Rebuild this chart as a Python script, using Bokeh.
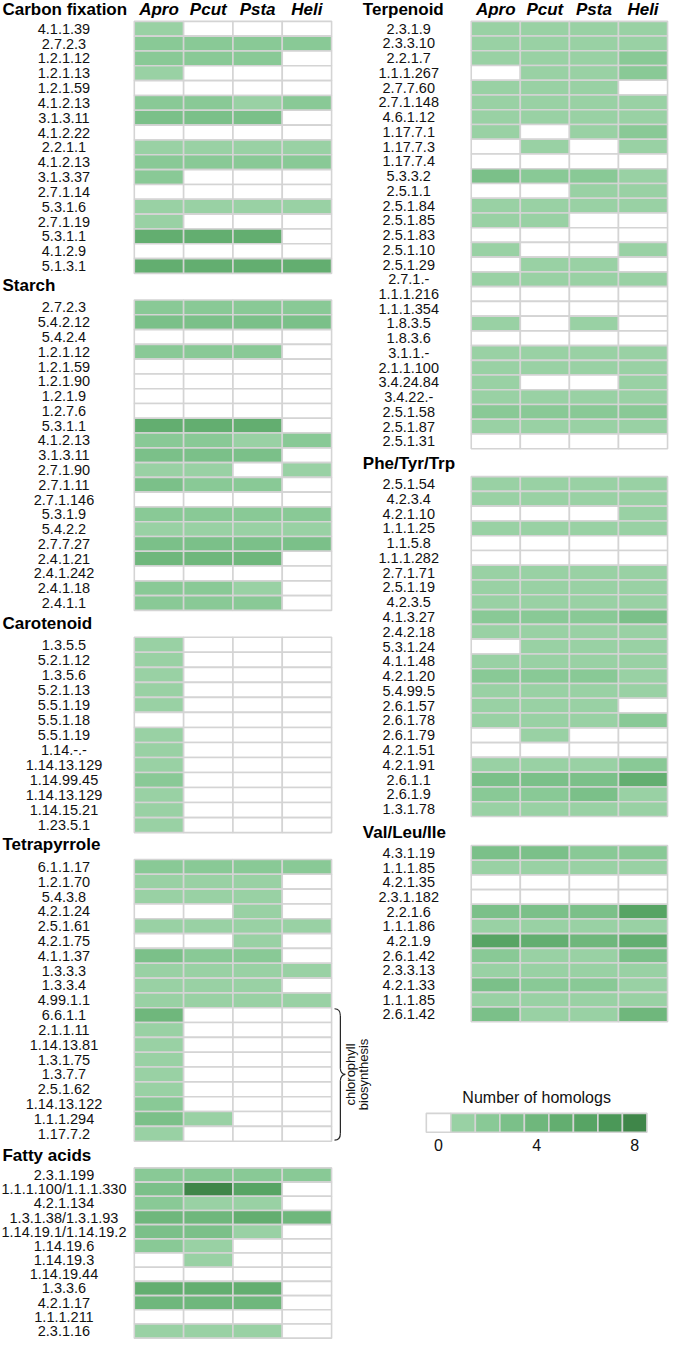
import math
from bokeh.plotting import figure
from bokeh.models import Range1d, ColumnDataSource
from bokeh.embed import file_html
from bokeh.resources import INLINE
from bokeh.core.properties import value

# ---------------- data ----------------
species = ["Apro", "Pcut", "Psta", "Heli"]

carbon_labels = ["4.1.1.39", "2.7.2.3", "1.2.1.12", "1.2.1.13", "1.2.1.59", "4.1.2.13", "3.1.3.11",
                 "4.1.2.22", "2.2.1.1", "4.1.2.13", "3.1.3.37", "2.7.1.14", "5.3.1.6", "2.7.1.19",
                 "5.3.1.1", "4.1.2.9", "5.1.3.1"]
carbon_values = [[1, 0, 0, 0], [2, 2, 2, 2], [2, 2, 2, 0], [1, 0, 0, 0], [0, 0, 0, 0], [2, 2, 1, 2],
                 [3, 3, 3, 0], [0, 0, 0, 0], [1, 1, 1, 1], [2, 2, 2, 2], [2, 0, 0, 0], [0, 0, 0, 0],
                 [1, 1, 1, 1], [1, 0, 0, 0], [5, 5, 5, 0], [0, 0, 0, 0], [5, 5, 5, 5]]

starch_labels = ["2.7.2.3", "5.4.2.12", "5.4.2.4", "1.2.1.12", "1.2.1.59", "1.2.1.90", "1.2.1.9",
                 "1.2.7.6", "5.3.1.1", "4.1.2.13", "3.1.3.11", "2.7.1.90", "2.7.1.11", "2.7.1.146",
                 "5.3.1.9", "5.4.2.2", "2.7.7.27", "2.4.1.21", "2.4.1.242", "2.4.1.18", "2.4.1.1"]
starch_values = [[2, 2, 2, 2], [3, 3, 3, 3], [0, 0, 0, 0], [2, 2, 2, 0], [0, 0, 0, 0], [0, 0, 0, 0],
                 [0, 0, 0, 0], [0, 0, 0, 0], [5, 5, 5, 0], [2, 2, 1, 2], [3, 3, 3, 0], [1, 1, 0, 1],
                 [3, 2, 2, 0], [0, 0, 0, 0], [2, 2, 2, 2], [1, 1, 1, 1], [3, 3, 3, 3], [4, 4, 4, 0],
                 [0, 0, 0, 0], [2, 2, 1, 0], [2, 2, 2, 0]]

carotenoid_labels = ["1.3.5.5", "5.2.1.12", "1.3.5.6", "5.2.1.13", "5.5.1.19", "5.5.1.18", "5.5.1.19",
                     "1.14.-.-", "1.14.13.129", "1.14.99.45", "1.14.13.129", "1.14.15.21", "1.23.5.1"]
carotenoid_values = [[1, 0, 0, 0], [1, 0, 0, 0], [1, 0, 0, 0], [1, 0, 0, 0], [1, 0, 0, 0], [0, 0, 0, 0],
                     [1, 0, 0, 0], [1, 0, 0, 0], [1, 0, 0, 0], [2, 0, 0, 0], [1, 0, 0, 0], [1, 0, 0, 0],
                     [1, 0, 0, 0]]

tetrapyrrole_labels = ["6.1.1.17", "1.2.1.70", "5.4.3.8", "4.2.1.24", "2.5.1.61", "4.2.1.75", "4.1.1.37",
                       "1.3.3.3", "1.3.3.4", "4.99.1.1", "6.6.1.1", "2.1.1.11", "1.14.13.81", "1.3.1.75",
                       "1.3.7.7", "2.5.1.62", "1.14.13.122", "1.1.1.294", "1.17.7.2"]
tetrapyrrole_values = [[2, 2, 2, 2], [1, 1, 1, 0], [1, 1, 1, 0], [0, 0, 1, 0], [1, 1, 1, 1], [0, 0, 1, 0],
                       [3, 2, 2, 0], [1, 1, 1, 1], [1, 1, 1, 0], [1, 1, 1, 1], [4, 0, 0, 0], [1, 0, 0, 0],
                       [1, 0, 0, 0], [1, 0, 0, 0], [1, 0, 0, 0], [1, 0, 0, 0], [2, 0, 0, 0], [3, 1, 0, 0],
                       [1, 0, 0, 0]]

fatty_labels = ["2.3.1.199", "1.1.1.100/1.1.1.330", "4.2.1.134", "1.3.1.38/1.3.1.93",
                "1.14.19.1/1.14.19.2", "1.14.19.6", "1.14.19.3", "1.14.19.44", "1.3.3.6", "4.2.1.17",
                "1.1.1.211", "2.3.1.16"]
fatty_values = [[2, 2, 2, 2], [3, 8, 6, 0], [2, 1, 1, 0], [4, 4, 5, 4], [3, 3, 1, 0], [2, 1, 0, 0],
                [0, 1, 0, 0], [0, 0, 0, 0], [5, 5, 5, 0], [4, 4, 4, 0], [0, 0, 0, 0], [1, 1, 1, 0]]

terpenoid_labels = ["2.3.1.9", "2.3.3.10", "2.2.1.7", "1.1.1.267", "2.7.7.60", "2.7.1.148", "4.6.1.12",
                    "1.17.7.1", "1.17.7.3", "1.17.7.4", "5.3.3.2", "2.5.1.1", "2.5.1.84", "2.5.1.85",
                    "2.5.1.83", "2.5.1.10", "2.5.1.29", "2.7.1.-", "1.1.1.216", "1.1.1.354", "1.8.3.5",
                    "1.8.3.6", "3.1.1.-", "2.1.1.100", "3.4.24.84", "3.4.22.-", "2.5.1.58", "2.5.1.87",
                    "2.5.1.31"]
terpenoid_values = [[1, 1, 1, 1], [1, 1, 1, 1], [1, 1, 1, 2], [0, 1, 1, 2], [1, 1, 1, 0], [1, 1, 1, 1],
                    [1, 1, 1, 1], [1, 0, 1, 2], [0, 1, 0, 1], [0, 0, 0, 0], [3, 2, 2, 1], [0, 0, 1, 1],
                    [1, 1, 1, 1], [1, 1, 0, 0], [0, 0, 0, 0], [1, 0, 0, 1], [0, 1, 1, 0], [1, 1, 1, 1],
                    [0, 0, 0, 0], [0, 0, 0, 0], [1, 0, 1, 0], [0, 0, 0, 0], [1, 1, 1, 1], [1, 1, 1, 1],
                    [1, 0, 0, 1], [1, 1, 1, 1], [2, 2, 2, 2], [1, 1, 1, 1], [0, 0, 0, 0]]

aromatic_labels = ["2.5.1.54", "4.2.3.4", "4.2.1.10", "1.1.1.25", "1.1.5.8", "1.1.1.282", "2.7.1.71",
                   "2.5.1.19", "4.2.3.5", "4.1.3.27", "2.4.2.18", "5.3.1.24", "4.1.1.48", "4.2.1.20",
                   "5.4.99.5", "2.6.1.57", "2.6.1.78", "2.6.1.79", "4.2.1.51", "4.2.1.91", "2.6.1.1",
                   "2.6.1.9", "1.3.1.78"]
aromatic_values = [[1, 1, 1, 1], [1, 1, 1, 1], [0, 0, 0, 1], [1, 1, 1, 1], [0, 0, 0, 0], [0, 0, 0, 0],
                   [1, 1, 1, 1], [1, 1, 1, 1], [1, 1, 1, 1], [2, 2, 2, 3], [1, 1, 1, 1], [0, 1, 1, 1],
                   [1, 1, 1, 1], [2, 2, 2, 1], [1, 1, 1, 1], [1, 1, 1, 0], [1, 1, 1, 2], [0, 1, 0, 0],
                   [0, 0, 0, 0], [1, 1, 1, 2], [3, 3, 3, 5], [2, 2, 3, 1], [1, 1, 1, 1]]

branched_labels = ["4.3.1.19", "1.1.1.85", "4.2.1.35", "2.3.1.182", "2.2.1.6", "1.1.1.86", "4.2.1.9",
                   "2.6.1.42", "2.3.3.13", "4.2.1.33", "1.1.1.85", "2.6.1.42"]
branched_values = [[3, 3, 2, 2], [1, 1, 1, 1], [0, 0, 0, 0], [0, 0, 0, 0], [3, 3, 3, 6], [1, 1, 1, 1],
                   [6, 5, 4, 5], [2, 1, 1, 3], [1, 1, 1, 1], [3, 2, 2, 1], [1, 1, 1, 1], [3, 1, 1, 4]]

legend_levels = [0, 1, 2, 3, 4, 5, 6, 7, 8]
legend_ticks = [0, 4, 8]
palette = ["#ffffff", "#99d1a4", "#89c996", "#7bc089", "#6fb77c", "#63ae70", "#57a464", "#4b9858", "#3f8649"]

# ---------------- layout ----------------
FONT = value("Liberation Sans")
L_LABEL_X, L_GRID_X0, L_COL_W = 65, 137.0, 50.5
R_LABEL_X, R_GRID_X0, R_COL_W = 418, 482.0, 50.25
L_TITLE_X, R_TITLE_X = 2, 371

panels = [
    ("Carbon fixation", carbon_labels, carbon_values, "L", 9, 21, 14.95, True),
    ("Starch", starch_labels, starch_values, "L", 287, 302, 14.9, False),
    ("Carotenoid", carotenoid_labels, carotenoid_values, "L", 628, 642, 15.15, False),
    ("Tetrapyrrole", tetrapyrrole_labels, tetrapyrrole_values, "L", 851, 866, 14.95, False),
    ("Fatty acids", fatty_labels, fatty_values, "L", 1164, 1177, 14.3, False),
    ("Terpenoid", terpenoid_labels, terpenoid_values, "R", 9, 21, 14.86, True),
    ("Phe/Tyr/Trp", aromatic_labels, aromatic_values, "R", 467, 480, 14.9, False),
    ("Val/Leu/Ile", branched_labels, branched_values, "R", 839, 852, 14.8, False),
]

p = figure(width=669, height=1341, x_range=Range1d(0, 685), y_range=Range1d(1352, 0),
           output_backend="svg", toolbar_location=None, x_axis_type=None, y_axis_type=None,
           min_border=0, outline_line_color=None, background_fill_color="white")
p.xgrid.visible = False
p.ygrid.visible = False

cx, cy, cw, ch, cc = [], [], [], [], []
lx, ly, lt = [], [], []
tx, ty, tt = [], [], []
hx, hy, ht = [], [], []

for title, labels, vals, side, title_y, top, pitch, header in panels:
    gx0 = L_GRID_X0 if side == "L" else R_GRID_X0
    colw = L_COL_W if side == "L" else R_COL_W
    lab_x = L_LABEL_X if side == "L" else R_LABEL_X
    tx.append(L_TITLE_X if side == "L" else R_TITLE_X)
    ty.append(title_y)
    tt.append(title)
    if header:
        for j, sp in enumerate(species):
            hx.append(gx0 + (j + 0.5) * colw)
            hy.append(title_y)
            ht.append(sp)
    for i, (lab, row) in enumerate(zip(labels, vals)):
        yc = top + (i + 0.5) * pitch
        lx.append(lab_x)
        ly.append(yc)
        lt.append(lab)
        for j, v in enumerate(row):
            cx.append(gx0 + (j + 0.5) * colw)
            cy.append(yc)
            cw.append(colw)
            ch.append(pitch)
            cc.append(palette[v])

p.rect(x="x", y="y", width="w", height="h", fill_color="c", line_color="#d4d4d4", line_width=1.6,
       source=ColumnDataSource(dict(x=cx, y=cy, w=cw, h=ch, c=cc)))
p.text(x=lx, y=ly, text=lt, text_align="center", text_baseline="middle", text_font=FONT,
       text_font_size="14.5px", text_color="#111111")
p.text(x=tx, y=ty, text=tt, text_align="left", text_baseline="middle", text_font=FONT,
       text_font_size="17px", text_font_style="bold", text_color="#000000")
p.text(x=hx, y=hy, text=ht, text_align="center", text_baseline="middle", text_font=FONT,
       text_font_size="17px", text_font_style="bold italic", text_color="#000000")

# chlorophyll biosynthesis brace (rows 6.6.1.1 .. 1.17.7.2 of Tetrapyrrole)
tp_top, tp_pitch = 866, 14.95
b_top = tp_top + 10 * tp_pitch + 1
b_bot = tp_top + 19 * tp_pitch - 1
b_mid = (b_top + b_bot) / 2
bx, hook, tip = 348, 342, 353
p.bezier(x0=[hook, bx, tip, bx], y0=[b_top, b_mid - 6, b_mid, b_bot - 7],
         x1=[bx, tip, bx, hook], y1=[b_top + 7, b_mid, b_mid + 6, b_bot],
         cx0=[bx - 2, bx, tip - 3, bx], cy0=[b_top, b_mid - 3, b_mid, b_bot - 2],
         cx1=[bx, tip - 3, bx, bx - 2], cy1=[b_top + 2, b_mid, b_mid + 3, b_bot],
         line_color="#222222", line_width=1.2)
p.segment(x0=[bx, bx], y0=[b_top + 7, b_mid + 6], x1=[bx, bx], y1=[b_mid - 6, b_bot - 7],
          line_color="#222222", line_width=1.2)
p.text(x=[358, 372], y=[b_mid, b_mid], text=["chlorophyll", "biosynthesis"], angle=math.pi / 2,
       text_align="center", text_baseline="middle", text_font=FONT, text_font_size="13px",
       text_color="#111111")

# legend
LEG_X0, LEG_W, LEG_Y0, LEG_H = 436, 25.1, 1122, 19
p.rect(x=[LEG_X0 + (k + 0.5) * LEG_W for k in legend_levels], y=[LEG_Y0 + LEG_H / 2] * len(legend_levels),
       width=LEG_W, height=LEG_H, fill_color=[palette[k] for k in legend_levels],
       line_color="#d4d4d4", line_width=1.6)
p.text(x=[LEG_X0 + 4.5 * LEG_W], y=[1106], text=["Number of homologs"], text_align="center",
       text_baseline="middle", text_font=FONT, text_font_size="16px", text_color="#111111")
p.text(x=[LEG_X0 + (k + 0.5) * LEG_W for k in legend_ticks], y=[1154] * len(legend_ticks),
       text=[str(k) for k in legend_ticks], text_align="center", text_baseline="middle",
       text_font=FONT, text_font_size="16px", text_color="#111111")

open("out.html", "w").write(file_html(p, INLINE))
